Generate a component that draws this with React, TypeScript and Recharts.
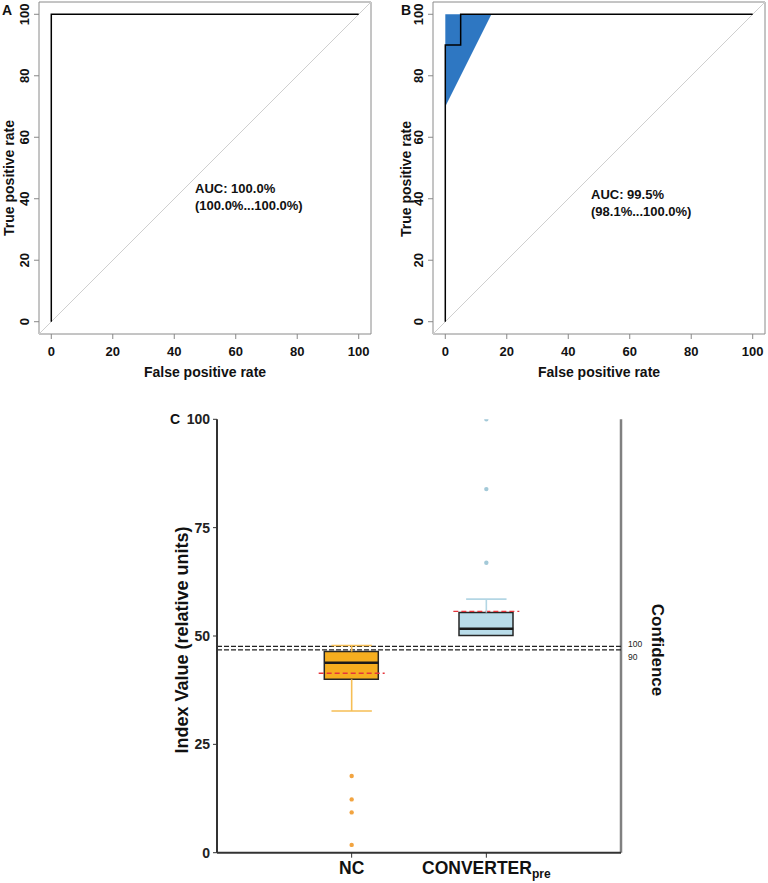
import React from "react";
import {
  Area,
  Bar,
  Cell,
  ComposedChart,
  ReferenceArea,
  ReferenceLine,
  Scatter,
  XAxis,
  YAxis,
} from "recharts";

const FONT = "'Liberation Sans', Arial, Helvetica, sans-serif";

const rateTicks = [0, 20, 40, 60, 80, 100];

// panel A roc curve (false positive %, true positive %)
const rocAFpr = [0, 0, 100];
const rocATpr = [0, 100, 100];

// panel B roc curve + confidence band
const rocBFpr = [0, 0, 5, 5, 100];
const rocBTpr = [0, 90, 90, 100, 100];
const ciBFpr = [0, 15];
const ciBLow = [70, 100];
const ciBHigh = [100, 100];

// panel C box plot
const groups = ["NC", "CONVERTER"];
const groupPos = [1, 2];
const q1 = [40.0, 50.1];
const medians = [43.8, 51.7];
const q3 = [46.4, 55.4];
const whiskLow = [32.7, 50.1];
const whiskHigh = [47.8, 58.5];
const means = [41.4, 55.7];
const ncOutliers = [17.7, 12.3, 9.3, 1.8];
const convOutliers = [66.9, 83.9, 100];
const confidenceLevels = ["100", "90"];
const confidenceValues = [47.6, 46.8];
const indexTicks = [0, 25, 50, 75, 100];

const boxFill = ["#f6ae1f", "#b9dce9"];
const whiskColor = ["#f6be55", "#b3d6e4"];
const dotColor = ["#f2a440", "#a3c9d8"];

const zip = (xs: number[], ys: number[]) => xs.map((x, i) => ({ x, y: ys[i] }));

const noShape = () => <g />;

const seg = (key: string, pts: { x: number; y: number }[], stroke: string, width: number, dash?: string, xAxisId?: string) => (
  <Scatter
    key={key}
    data={pts}
    xAxisId={xAxisId ?? 0}
    line={{ stroke, strokeWidth: width, strokeDasharray: dash }}
    shape={noShape}
    legendType="none"
    isAnimationActive={false}
  />
);

const RateXTick = ({ x, y, payload }: any) => (
  <text x={x} y={y} dy={15} textAnchor="middle" fontSize={13} fontWeight="bold" fill="#111" fontFamily={FONT}>
    {payload.value}
  </text>
);

const RateYTick = ({ x, y, payload }: any) => (
  <g transform={`translate(${x - 3},${y}) rotate(-90)`}>
    <text x={0} y={0} textAnchor="middle" fontSize={13} fontWeight="bold" fill="#111" fontFamily={FONT}>
      {payload.value}
    </text>
  </g>
);

const IndexYTick = ({ x, y, payload }: any) => (
  <text x={x + 2} y={y} dy={5} textAnchor="end" fontSize={14} fontWeight="bold" fill="#222" fontFamily={FONT}>
    {payload.value}
  </text>
);

const GroupTick = ({ x, y, payload }: any) => (
  <text x={x} y={y} dy={14} textAnchor="middle" fontSize={17.5} fontWeight="bold" fill="#111" fontFamily={FONT}>
    {payload.value === "CONVERTER" ? (
      <>
        CONVERTER
        <tspan fontSize={12} dy={4}>pre</tspan>
      </>
    ) : (
      payload.value
    )}
  </text>
);

const label = (text: string, style: React.CSSProperties) => (
  <div style={{ position: "absolute", fontFamily: FONT, fontWeight: "bold", color: "#111", whiteSpace: "nowrap", ...style }}>
    {text}
  </div>
);

interface RocProps {
  left: number;
  marginLeft: number;
  marginRight: number;
  fpr: number[];
  tpr: number[];
  band?: { x: number; ci: number[] }[];
}

const RocPanel = ({ left, marginLeft, marginRight, fpr, tpr, band }: RocProps) => (
  <div style={{ position: "absolute", left, top: 0 }}>
    <ComposedChart width={384} height={390} margin={{ top: 2, right: marginRight, bottom: 26, left: marginLeft }}>
      <XAxis
        dataKey="x"
        type="number"
        domain={[-4, 104]}
        ticks={rateTicks}
        allowDataOverflow
        axisLine={false}
        tickSize={5}
        tickLine={{ stroke: "#888" }}
        tick={<RateXTick />}
        height={30}
        interval={0}
      />
      <YAxis
        dataKey="y"
        type="number"
        domain={[-4, 104]}
        ticks={rateTicks}
        allowDataOverflow
        axisLine={false}
        tickSize={5}
        tickLine={{ stroke: "#888" }}
        tick={<RateYTick />}
        width={30}
        interval={0}
      />
      <ReferenceArea x1={-4} x2={104} y1={-4} y2={104} fill="none" stroke="#8a8a8a" strokeWidth={1} />
      {band && (
        <Area
          data={band}
          dataKey="ci"
          type="linear"
          fill="#2e77c2"
          fillOpacity={1}
          stroke="none"
          isAnimationActive={false}
        />
      )}
      <ReferenceLine
        segment={[
          { x: -4, y: -4 },
          { x: 104, y: 104 },
        ]}
        stroke="#cfcfcf"
        strokeWidth={1}
      />
      {seg("roc", zip(fpr, tpr), "#000", 1.5)}
    </ComposedChart>
  </div>
);

export default function App() {
  const bandB = ciBFpr.map((x, i) => ({ x, ci: [ciBLow[i], ciBHigh[i]] }));
  const boxData = groups.map((g, i) => ({ name: g, box: [q1[i], q3[i]] }));

  const boxLines = groups.flatMap((g, i) => {
    const p = groupPos[i];
    const out = [
      seg(`med${i}`, [{ x: p - 0.2, y: medians[i] }, { x: p + 0.2, y: medians[i] }], "#1a1a1a", 2.5, undefined, "num"),
      seg(`mean${i}`, [{ x: p - 0.245, y: means[i] }, { x: p + 0.245, y: means[i] }], "#e5363c", 1.3, "5 3", "num"),
      seg(`wh${i}`, [{ x: p, y: q3[i] }, { x: p, y: whiskHigh[i] }], whiskColor[i], 1.6, undefined, "num"),
      seg(`ch${i}`, [{ x: p - 0.15, y: whiskHigh[i] }, { x: p + 0.15, y: whiskHigh[i] }], whiskColor[i], 1.6, undefined, "num"),
    ];
    if (whiskLow[i] < q1[i]) {
      out.push(seg(`wl${i}`, [{ x: p, y: q1[i] }, { x: p, y: whiskLow[i] }], whiskColor[i], 1.6, undefined, "num"));
      out.push(seg(`cl${i}`, [{ x: p - 0.15, y: whiskLow[i] }, { x: p + 0.15, y: whiskLow[i] }], whiskColor[i], 1.6, undefined, "num"));
    }
    return out;
  });

  const outlierSets = [ncOutliers, convOutliers];

  return (
    <div style={{ position: "absolute", left: 0, top: 0, width: 768, height: 883, background: "#fff" }}>
      <RocPanel left={0} marginLeft={9} marginRight={13} fpr={rocAFpr} tpr={rocATpr} />
      <RocPanel left={384} marginLeft={19} marginRight={3} fpr={rocBFpr} tpr={rocBTpr} band={bandB} />

      {label("A", { left: 2, top: 2, fontSize: 14 })}
      {label("B", { left: 401, top: 2, fontSize: 14 })}
      {label("AUC: 100.0%", { left: 195, top: 180, fontSize: 13, lineHeight: "17px" })}
      {label("(100.0%...100.0%)", { left: 195, top: 197, fontSize: 13, lineHeight: "17px" })}
      {label("AUC: 99.5%", { left: 591, top: 186, fontSize: 13, lineHeight: "17px" })}
      {label("(98.1%...100.0%)", { left: 591, top: 203, fontSize: 13, lineHeight: "17px" })}
      {label("False positive rate", { left: 205, top: 372, fontSize: 14, transform: "translate(-50%,-50%)" })}
      {label("False positive rate", { left: 599, top: 372, fontSize: 14, transform: "translate(-50%,-50%)" })}
      {label("True positive rate", { left: 8.5, top: 178, fontSize: 14, transform: "translate(-50%,-50%) rotate(-90deg)" })}
      {label("True positive rate", { left: 405.5, top: 179, fontSize: 14, transform: "translate(-50%,-50%) rotate(-90deg)" })}

      <div style={{ position: "absolute", left: 150, top: 400 }}>
        <ComposedChart width={520} height={483} data={boxData} margin={{ top: 19.3, right: 49, bottom: 2.3, left: 27 }}>
          <XAxis
            xAxisId="cat"
            dataKey="name"
            type="category"
            padding={{ left: 67.3, right: 67.3 }}
            axisLine={{ stroke: "#333", strokeWidth: 2 }}
            tickLine={{ stroke: "#333" }}
            tickSize={5}
            tick={<GroupTick />}
            height={28}
            interval={0}
          />
          <XAxis xAxisId="num" dataKey="x" type="number" domain={[0, 3]} allowDataOverflow hide />
          <YAxis
            dataKey="y"
            type="number"
            domain={[0, 100]}
            ticks={indexTicks}
            allowDataOverflow
            axisLine={{ stroke: "#333", strokeWidth: 2 }}
            tickLine={{ stroke: "#333" }}
            tickSize={4}
            tickMargin={5}
            tick={<IndexYTick />}
            width={40}
            interval={0}
          />
          <ReferenceLine xAxisId="num" x={3} stroke="#808080" strokeWidth={2.5} />
          <Bar xAxisId="cat" dataKey="box" barSize={54} stroke="#262626" strokeWidth={1.5} isAnimationActive={false}>
            {boxData.map((d, i) => (
              <Cell key={d.name} fill={boxFill[i]} />
            ))}
          </Bar>
          {boxLines}
          {outlierSets.map((set, i) => (
            <Scatter
              key={`out${i}`}
              xAxisId="num"
              data={set.map((v) => ({ x: groupPos[i], y: v }))}
              shape={(p: any) => <circle cx={p.cx} cy={p.cy} r={2.2} fill={dotColor[i]} />}
              isAnimationActive={false}
            />
          ))}
          {confidenceValues.map((v, i) => (
            <ReferenceLine
              key={`conf${i}`}
              xAxisId="num"
              y={v}
              stroke="#222"
              strokeWidth={1.4}
              strokeDasharray="5 2"
              label={{
                value: confidenceLevels[i],
                position: "right",
                offset: 7,
                fontSize: 8.5,
                fill: "#222",
                fontFamily: FONT,
                dy: i === 0 ? -2 : 7,
              }}
            />
          ))}
        </ComposedChart>
      </div>

      {label("C", { left: 170, top: 411, fontSize: 14 })}
      {label("Index Value (relative units)", {
        left: 181.5,
        top: 640,
        fontSize: 18,
        transform: "translate(-50%,-50%) rotate(-90deg)",
      })}
      {label("Confidence", {
        left: 657,
        top: 650,
        fontSize: 17,
        transform: "translate(-50%,-50%) rotate(90deg)",
      })}
    </div>
  );
}
